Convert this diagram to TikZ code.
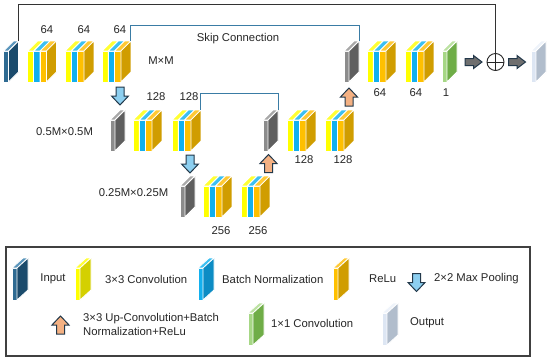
\documentclass[tikz,border=0pt]{standalone}
\usepackage{fontspec}
\setmainfont{Liberation Sans}
\definecolor{inF}{HTML}{2F6B92}\definecolor{inT}{HTML}{5B96BC}\definecolor{inS}{HTML}{1B4B6C}
\definecolor{yF}{HTML}{FFFF00}\definecolor{yT}{HTML}{FFFF33}\definecolor{yS}{HTML}{D4D000}
\definecolor{bF}{HTML}{13B0EE}\definecolor{bT}{HTML}{3CC0F2}\definecolor{bS}{HTML}{0C8CC4}
\definecolor{oF}{HTML}{FFC000}\definecolor{oT}{HTML}{FFC933}\definecolor{oS}{HTML}{D09D00}
\definecolor{gF}{HTML}{8C8C8C}\definecolor{gT}{HTML}{A8A8A8}\definecolor{gS}{HTML}{5F5F5F}
\definecolor{grF}{HTML}{A6D785}\definecolor{grT}{HTML}{BCE2A2}\definecolor{grS}{HTML}{6FAD47}
\definecolor{otF}{HTML}{DDE6F3}\definecolor{otT}{HTML}{EEF3FA}\definecolor{otS}{HTML}{B1BDCC}
\definecolor{txt}{HTML}{262626}
\definecolor{skipc}{HTML}{3A7CA5}
\definecolor{darrF}{HTML}{8DCFF0}
\definecolor{uarrF}{HTML}{F4B183}
\definecolor{arrD}{HTML}{22384A}
\def\sh{31}\def\sdx{10}\def\sdy{10}\def\pw{6.3}\def\tw{5}
\newcommand\slabpart[5]{%
 \path[slabedge,fill=#3] (#1,0) -- (#1+#2,0) -- (#1+#2,-\sh) -- (#1,-\sh) -- cycle;
 \path[slabedge,fill=#4] (#1,-\sh) -- (#1+#2,-\sh) -- (#1+#2+\sdx,-\sh-\sdy) -- (#1+\sdx,-\sh-\sdy) -- cycle;
 \path[slabedge,fill=#5] (#1+#2,0) -- (#1+#2+\sdx,-\sdy) -- (#1+#2+\sdx,-\sh-\sdy) -- (#1+#2,-\sh) -- cycle;
}
\tikzset{
 slabedge/.style={draw=white, line width=0.8pt, line join=round},
 pics/conv/.style={code={%
   \slabpart{0}{\pw}{yF}{yT}{yS}%
   \slabpart{\pw}{\pw}{bF}{bT}{bS}%
   \slabpart{2*\pw}{\pw}{oF}{oT}{oS}%
   \coordinate (-tr) at (3*\pw+\sdx,-\sh-\sdy);}},
 pics/thin/.style n args={3}{code={%
   \slabpart{0}{\tw}{#1}{#2}{#3}%
   \coordinate (-tr) at (\tw+\sdx,-\sh-\sdy);}},
 pics/darr/.style={code={\path[fill=darrF, draw=arrD, line width=1pt, line join=miter]
   (-4,-9) -- (4,-9) -- (4,0) -- (8.5,0) -- (0,9) -- (-8.5,0) -- (-4,0) -- cycle;}},
 pics/uarr/.style={code={\path[fill=uarrF, draw=arrD, line width=1pt, line join=miter]
   (-4,9) -- (4,9) -- (4,0) -- (8.5,0) -- (0,-9) -- (-8.5,0) -- (-4,0) -- cycle;}},
 pics/rarr/.style={code={\path[fill=gS!90!white, draw=arrD, line width=1pt, line join=miter]
   (-8.5,-3.5) -- (0,-3.5) -- (0,-6.5) -- (8.5,0) -- (0,6.5) -- (0,3.5) -- (-8.5,3.5) -- cycle;}},
 lbl/.style={inner sep=0pt, text=txt, font=\fontsize{11.3}{14}\selectfont},
 skipline/.style={draw=skipc, line width=0.9pt},
 outline/.style={draw=black!80, line width=0.9pt},
}
\begin{document}
\begin{tikzpicture}[x=1pt,y=-1pt]
\useasboundingbox[fill=white] (0,0) rectangle (550,360);
% ---- row 1
\pic (inp) at (3.5,82) {thin={inF}{inT}{inS}};
\pic (c1) at (27.5,82) {conv};
\pic (c2) at (65,82) {conv};
\pic (c3) at (102,82) {conv};
\pic (g1) at (344,82) {thin={gF}{gT}{gS}};
\pic (c4) at (367,82) {conv};
\pic (c5) at (405,82) {conv};
\pic (gr) at (442,82) {thin={grF}{grT}{grS}};
\pic (outb) at (531,82) {thin={otF}{otT}{otS}};
% ---- row 2
\pic (g2) at (110,151) {thin={gF}{gT}{gS}};
\pic (c6) at (133,151) {conv};
\pic (c7) at (172,151) {conv};
\pic (g3) at (263,151) {thin={gF}{gT}{gS}};
\pic (c8) at (287,151) {conv};
\pic (c9) at (325,151) {conv};
% ---- row 3
\pic (g4) at (180,217) {thin={gF}{gT}{gS}};
\pic (c10) at (203,217) {conv};
\pic (c11) at (241,217) {conv};
% ---- arrows
\pic (da1) at (120,96) {darr};
\pic (da2) at (190,164) {darr};
\pic (ua1) at (268.5,163.5) {uarr};
\pic (ua2) at (349,97) {uarr};
\node[draw=black!85, circle, minimum size=17pt, inner sep=0pt, line width=0.9pt] (plus) at (495.5,62) {};
\draw[black!85, line width=0.9pt] (plus.north) -- (plus.south) (plus.west) -- (plus.east);
\pic (ra1) at (473.5,62) {rarr};
\pic (ra2) at (517,62) {rarr};
% ---- connections
\coordinate (sk1) at (0,25.5);
\coordinate (sk2) at (0,93.5);
\coordinate (topl) at (0,4);
\draw[skipline] (c3-tr) -- (c3-tr |- sk1) -- (g1-tr |- sk1) -- (g1-tr);
\draw[skipline] (c7-tr) -- (c7-tr |- sk2) -- (g3-tr |- sk2) -- (g3-tr);
\draw[outline] (inp-tr) -- (inp-tr |- topl) -- (plus.north |- topl) -- (plus.north);
% ---- labels
\node[lbl] (t1) at (47,30) {64};
\node[lbl] (t2) at (84,30) {64};
\node[lbl] (t3) at (120,30) {64};
\node[lbl] (tmm) at (161,61) {M×M};
\node[lbl] (tskip) at (238,39) {Skip Connection};
\node[lbl] (t4) at (380,93) {64};
\node[lbl] (t5) at (416,93) {64};
\node[lbl] (t6) at (446,93) {1};
\node[lbl] (t7) at (156,97) {128};
\node[lbl] (t8) at (189,97) {128};
\node[lbl] (thalf) at (64.5,132) {0.5M×0.5M};
\node[lbl] (t9) at (304,160) {128};
\node[lbl] (t10) at (343,160) {128};
\node[lbl] (tq) at (133.5,193) {0.25M×0.25M};
\node[lbl] (t11) at (221,231) {256};
\node[lbl] (t12) at (258,231) {256};
% ---- legend
\draw[draw=black!75, line width=1.2pt] (6,247) rectangle (530,356);
\begin{scope}
\def\sh{32}\def\sdx{11}\def\sdy{10}
\pic (Linp) at (12,300) {thin={inF}{inT}{inS}};
\pic (Ly) at (75,300) {thin={yF}{yT}{yS}};
\pic (Lb) at (198,300) {thin={bF}{bT}{bS}};
\pic (Lo) at (333,300) {thin={oF}{oT}{oS}};
\pic (Lg) at (248,345) {thin={grF}{grT}{grS}};
\pic (Lout) at (382,345) {thin={otF}{otT}{otS}};
\end{scope}
\pic (Lda) at (416.5,282.5) {darr};
\pic (Lua) at (60.5,325) {uarr};
\node[lbl] (lt1) at (53,279) {Input};
\node[lbl, anchor=west] (lt2) at (105,279) {3×3 Convolution};
\node[lbl, anchor=west] (lt3) at (222,279) {Batch Normalization};
\node[lbl, anchor=west] (lt4) at (369,279) {ReLu};
\node[lbl, anchor=west] (lt5) at (434,279) {2×2 Max Pooling};
\node[lbl, anchor=west, align=left] (lt6) at (83,324) {3×3 Up-Convolution+Batch\\Normalization+ReLu};
\node[lbl, anchor=west] (lt7) at (271,323) {1×1 Convolution};
\node[lbl, anchor=west] (lt8) at (410,323) {Output};
\end{tikzpicture}
\end{document}
